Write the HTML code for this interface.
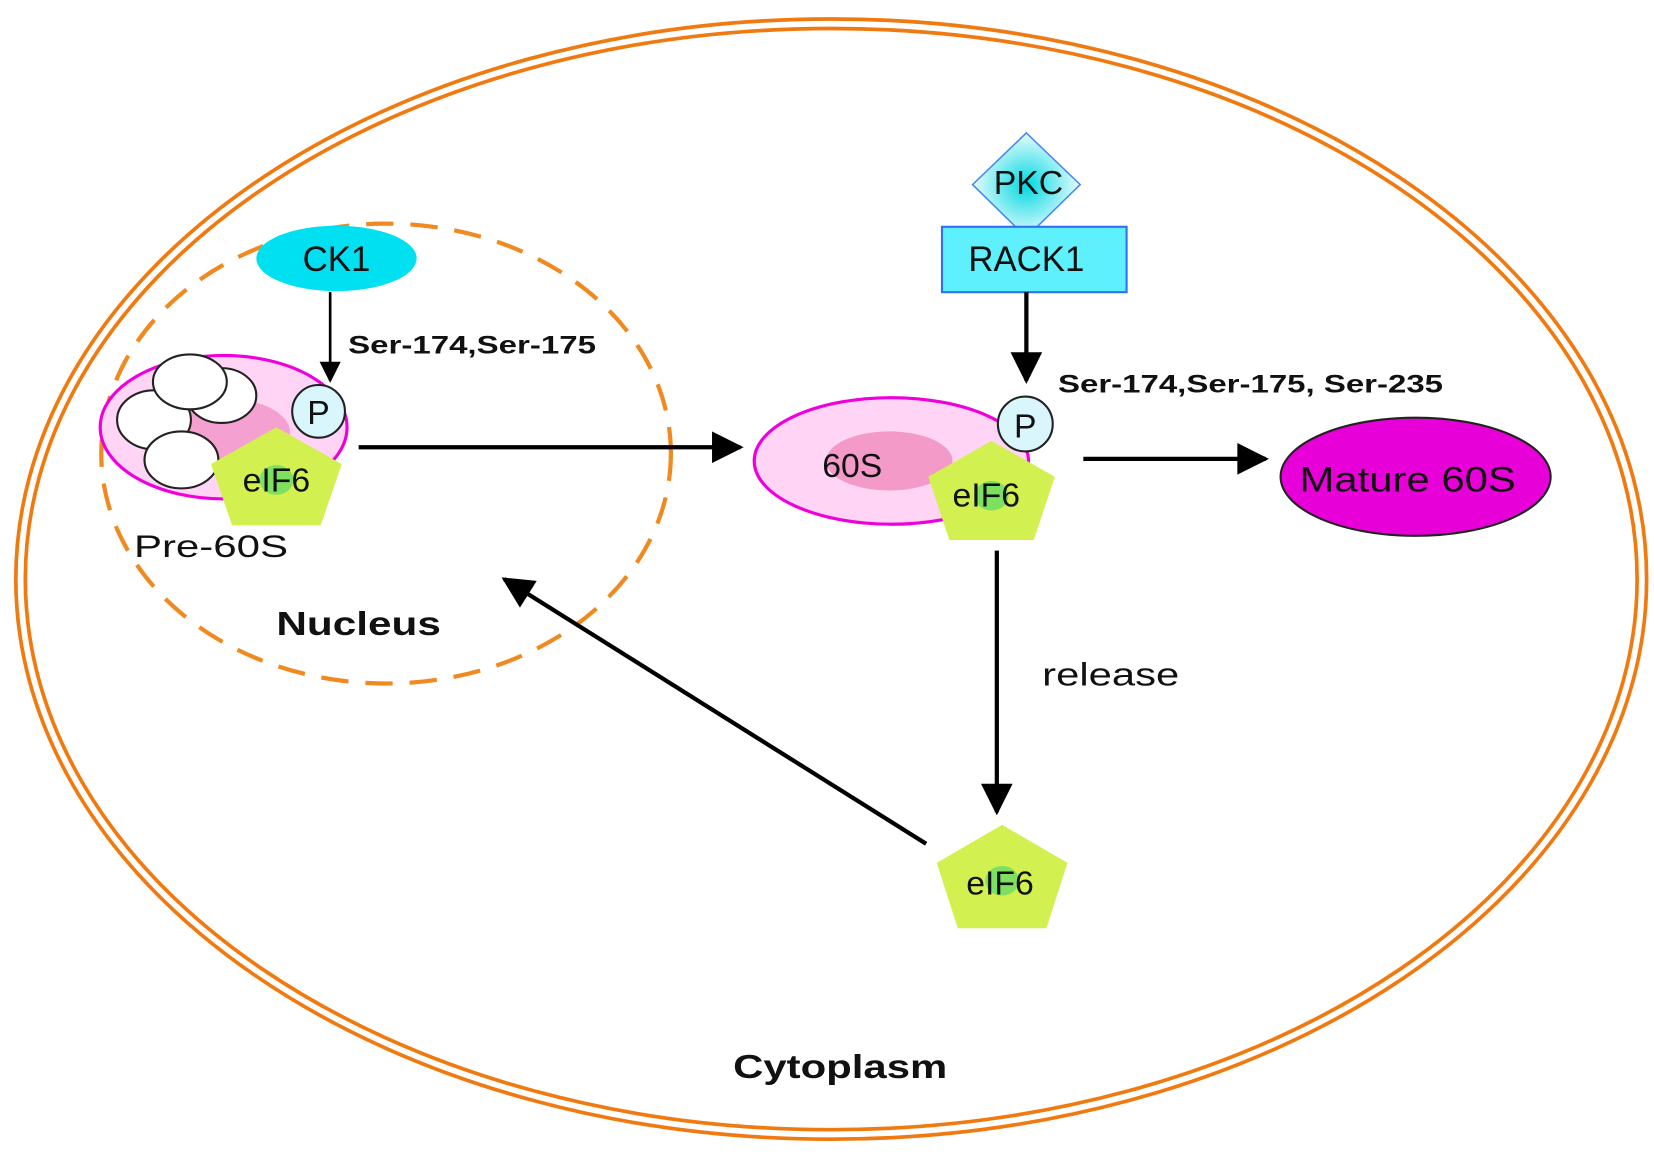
<!DOCTYPE html>
<html><head><meta charset="utf-8"><style>
html,body{margin:0;padding:0;background:#fff;width:1654px;height:1155px;overflow:hidden}
svg{display:block}
text{font-family:"Liberation Sans",Arial,sans-serif;fill:#111}
</style></head><body>
<svg width="1654" height="1155" viewBox="0 0 1568 1095" preserveAspectRatio="none" xmlns="http://www.w3.org/2000/svg">
<defs>
<marker id="ah" viewBox="0 0 10 10" refX="9" refY="5" markerWidth="8" markerHeight="7.5" orient="auto" markerUnits="strokeWidth"><path d="M0,0 L10,5 L0,10 z" fill="#000"/></marker>
<marker id="ahs" viewBox="0 0 10 10" refX="9" refY="5" markerWidth="9" markerHeight="8" orient="auto" markerUnits="strokeWidth"><path d="M0,0 L10,5 L0,10 z" fill="#000"/></marker>
<radialGradient id="pk" cx="50%" cy="50%" r="50%"><stop offset="0" stop-color="#00d8e0"/><stop offset="1" stop-color="#e8fcff"/></radialGradient>
</defs>
<ellipse cx="788" cy="549" rx="773" ry="531" fill="none" stroke="#f07a10" stroke-width="3.5"/>
<ellipse cx="788" cy="549" rx="764" ry="522" fill="none" stroke="#f07a10" stroke-width="3.5"/>
<ellipse cx="366" cy="430" rx="270" ry="218" fill="none" stroke="#f08a20" stroke-width="4" stroke-dasharray="26,16"/>
<ellipse cx="319" cy="245" rx="76" ry="31" fill="#00e0f0"/>
<text x="319" y="257" font-size="33" text-anchor="middle">CK1</text>
<line x1="313" y1="277" x2="313" y2="361" stroke="#000" stroke-width="2.5" marker-end="url(#ahs)"/>
<text x="330" y="335" font-size="24" font-weight="bold" textLength="235" lengthAdjust="spacingAndGlyphs">Ser-174,Ser-175</text>
<ellipse cx="212" cy="405" rx="117" ry="68" fill="#ffd4f4" stroke="#ee00dd" stroke-width="3"/>
<ellipse cx="215" cy="410" rx="60" ry="32" fill="#f4a0d0"/>
<ellipse cx="146" cy="398" rx="35" ry="28" fill="#fff" stroke="#222" stroke-width="2"/>
<ellipse cx="210" cy="375" rx="33" ry="26" fill="#fff" stroke="#222" stroke-width="2"/>
<ellipse cx="180" cy="362" rx="35" ry="26" fill="#fff" stroke="#222" stroke-width="2"/>
<ellipse cx="172" cy="436" rx="35" ry="27" fill="#fff" stroke="#222" stroke-width="2"/>
<circle cx="302" cy="390" r="25" fill="#d8f6fc" stroke="#222" stroke-width="2"/>
<text x="302" y="402" font-size="32" text-anchor="middle">P</text>
<polygon points="262,405 324,440 304,498 220,498 200,440" fill="#d2f050"/>
<ellipse cx="262" cy="455" rx="16" ry="14" fill="#7ee060"/>
<text x="262" y="466" font-size="32" text-anchor="middle">eIF6</text>
<text x="127" y="528" font-size="30" textLength="146" lengthAdjust="spacingAndGlyphs">Pre-60S</text>
<text x="262" y="602" font-size="32" font-weight="bold" textLength="156" lengthAdjust="spacingAndGlyphs">Nucleus</text>
<line x1="340" y1="424" x2="702" y2="424" stroke="#000" stroke-width="4" marker-end="url(#ah)"/>
<polygon points="973,126 1024,175 973,225 922,175" fill="url(#pk)" stroke="#4a8af0" stroke-width="1.5"/>
<rect x="893" y="215" width="175" height="62" fill="#5ef0fc" stroke="#3070f0" stroke-width="2"/>
<text x="975" y="184" font-size="32" text-anchor="middle">PKC</text>
<text x="973" y="257" font-size="33" text-anchor="middle">RACK1</text>
<line x1="973" y1="277" x2="973" y2="361" stroke="#000" stroke-width="4" marker-end="url(#ah)"/>
<text x="1003" y="372" font-size="24" font-weight="bold" textLength="365" lengthAdjust="spacingAndGlyphs">Ser-174,Ser-175,  Ser-235</text>
<ellipse cx="845" cy="437" rx="130" ry="60" fill="#ffd4f4" stroke="#ee00dd" stroke-width="3"/>
<ellipse cx="843" cy="437" rx="60" ry="28" fill="#f39ac8"/>
<text x="808" y="452" font-size="32" text-anchor="middle">60S</text>
<circle cx="972" cy="402" r="26" fill="#d8f6fc" stroke="#222" stroke-width="2"/>
<text x="972" y="415" font-size="32" text-anchor="middle">P</text>
<polygon points="940,418 1000,452 980,512 900,512 880,452" fill="#d2f050"/>
<ellipse cx="940" cy="470" rx="16" ry="14" fill="#7ee060"/>
<text x="935" y="480" font-size="32" text-anchor="middle">eIF6</text>
<line x1="1027" y1="435" x2="1200" y2="435" stroke="#000" stroke-width="4" marker-end="url(#ah)"/>
<ellipse cx="1342" cy="452" rx="128" ry="56" fill="#e800d8" stroke="#222" stroke-width="2"/>
<text x="1232" y="466" font-size="33" textLength="205" lengthAdjust="spacingAndGlyphs">Mature 60S</text>
<line x1="945" y1="522" x2="945" y2="770" stroke="#000" stroke-width="4" marker-end="url(#ah)"/>
<text x="988" y="650" font-size="31" textLength="130" lengthAdjust="spacingAndGlyphs">release</text>
<polygon points="950,782 1012,818 992,880 908,880 888,818" fill="#d2f050"/>
<ellipse cx="950" cy="835" rx="16" ry="14" fill="#7ee060"/>
<text x="948" y="848" font-size="32" text-anchor="middle">eIF6</text>
<line x1="878" y1="800" x2="478" y2="549" stroke="#000" stroke-width="4" marker-end="url(#ah)"/>
<text x="695" y="1022" font-size="32" font-weight="bold" textLength="203" lengthAdjust="spacingAndGlyphs">Cytoplasm</text>
</svg>
</body></html>
